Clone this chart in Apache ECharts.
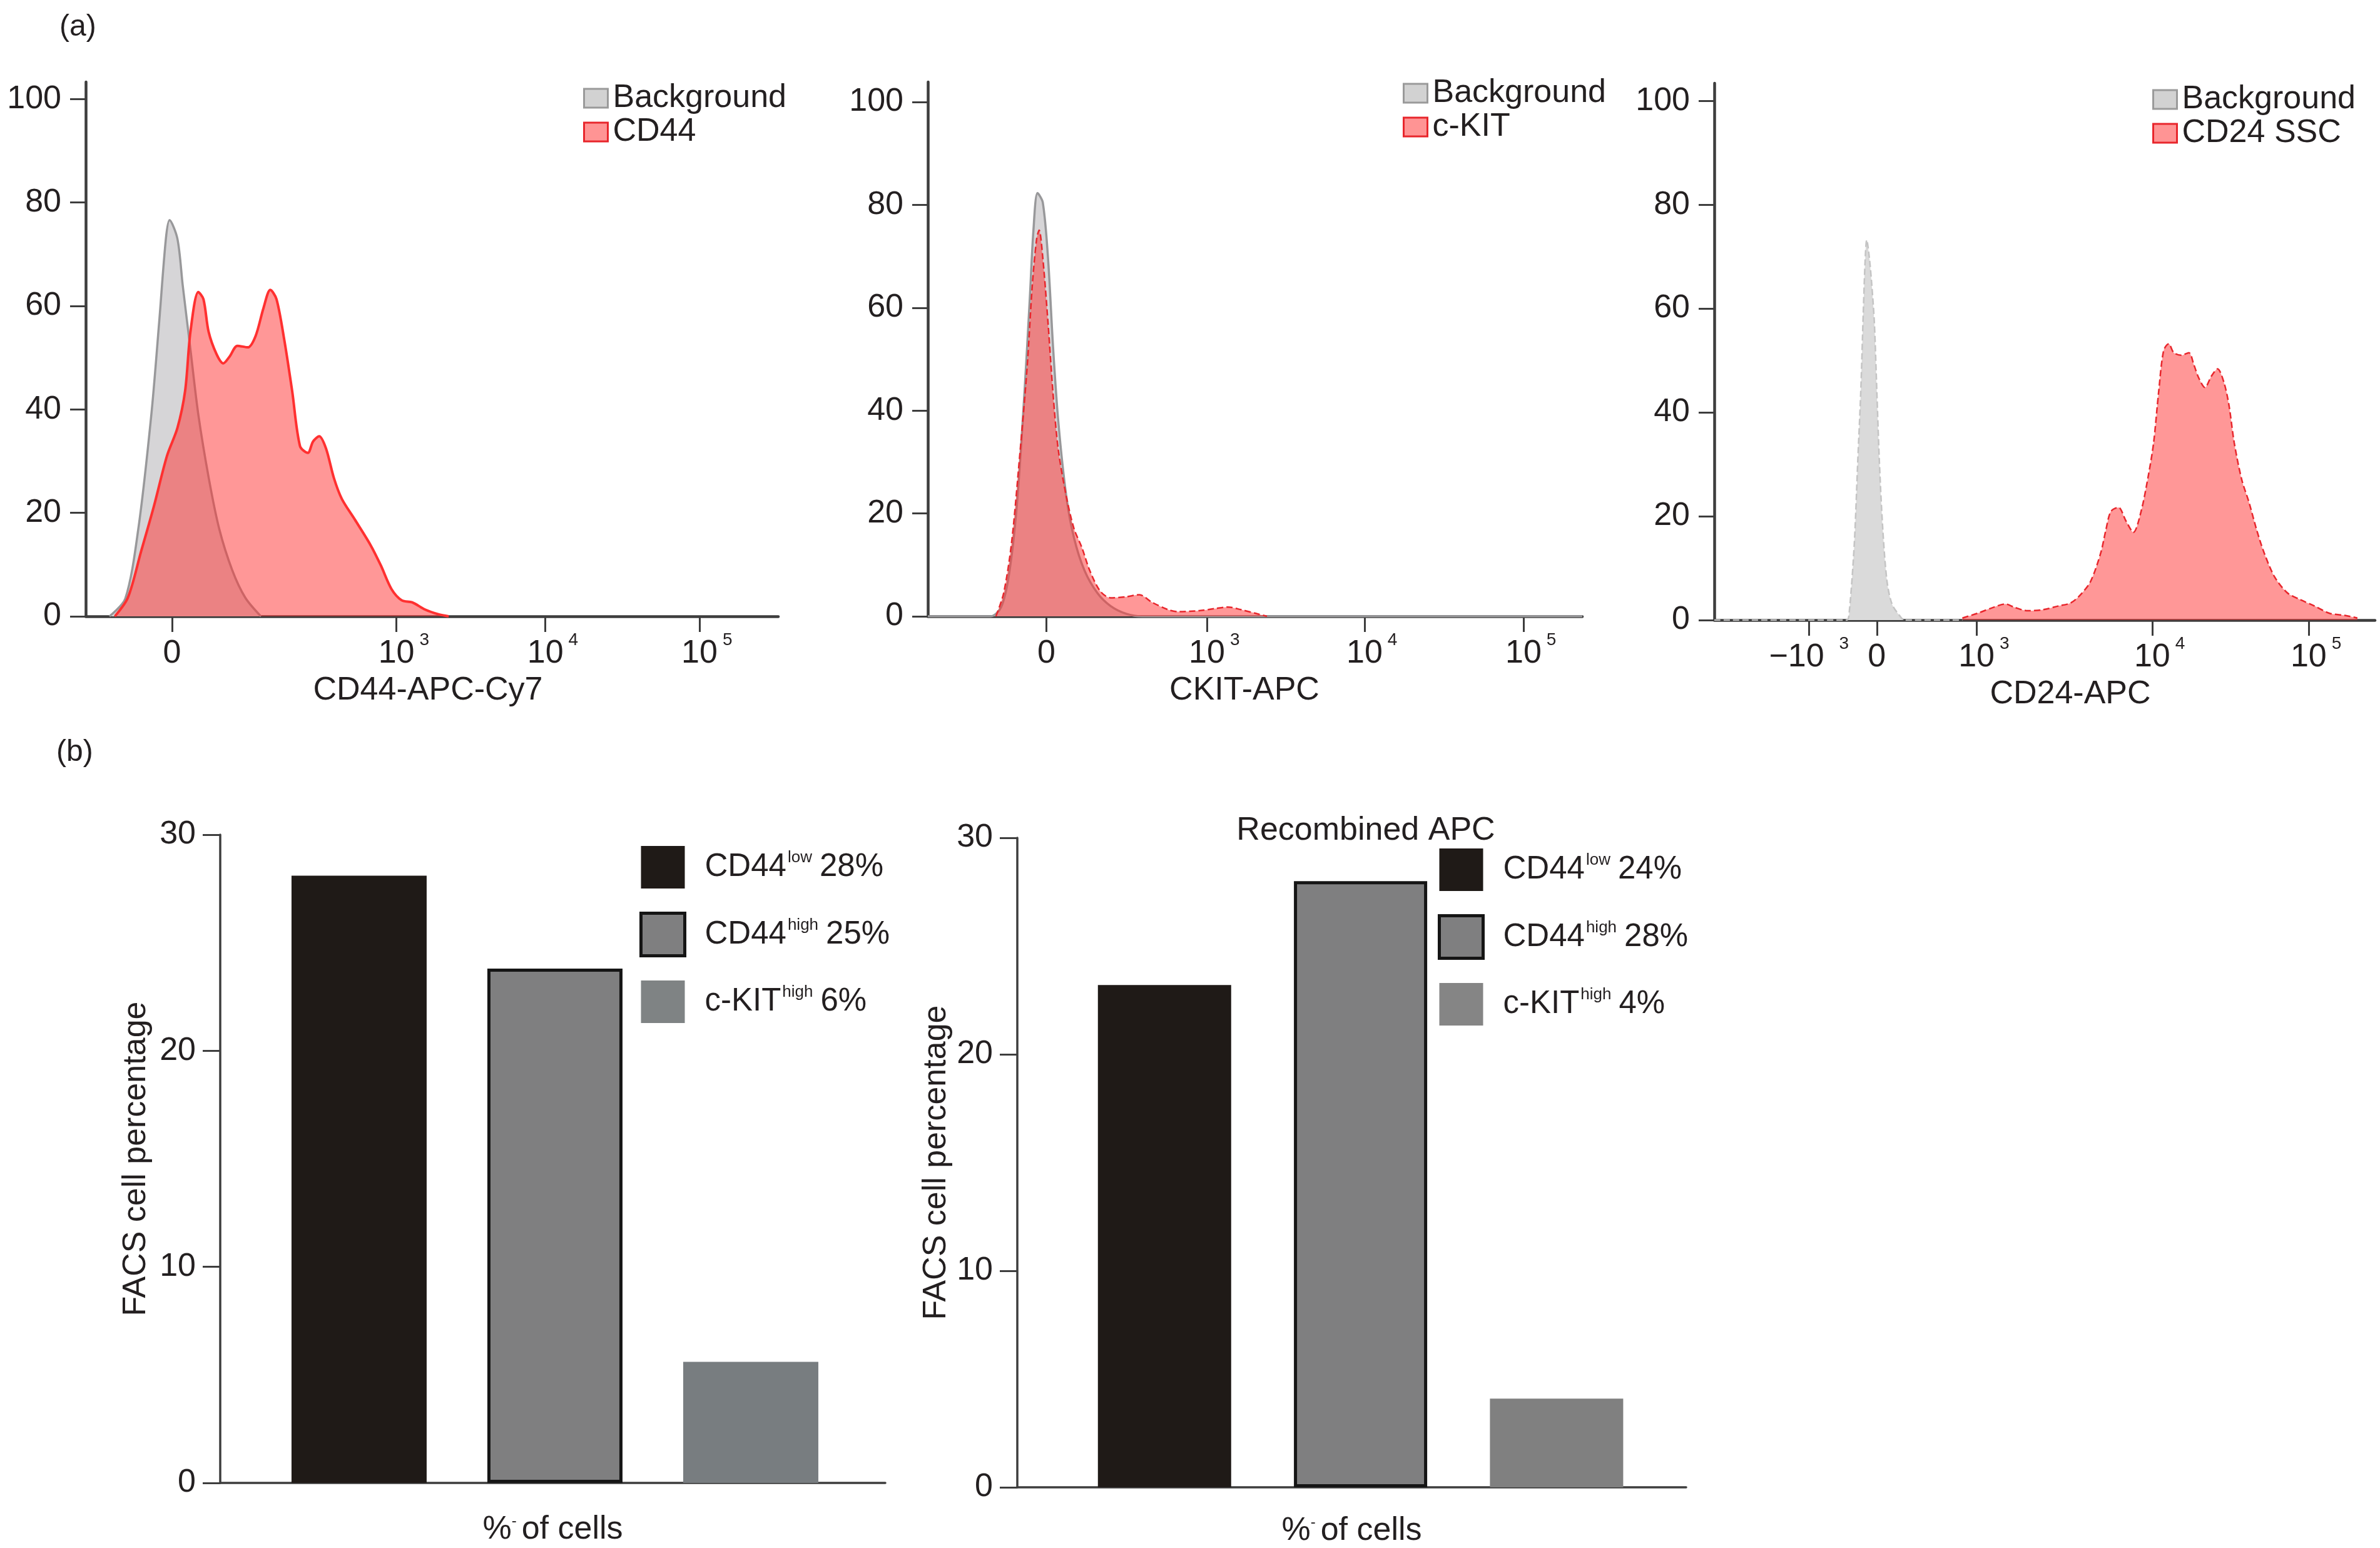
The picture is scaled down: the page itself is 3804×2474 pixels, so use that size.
<!DOCTYPE html>
<html>
<head>
<meta charset="utf-8">
<script src="https://cdn.jsdelivr.net/npm/echarts/dist/echarts.min.js"></script>
<style>html,body{margin:0;padding:0;background:#fff}#c{width:3804px;height:2474px}</style>
</head>
<body>
<div id="c"></div>
<script>
// ---------- (a) histograms: x in display decades (10^3 = 3, 10^4 ~ 4, 10^5 = 5), y = cell count ----------
// Panel 1: CD44-APC-Cy7
const p1BgPos   = [1.107, 1.211, 1.297, 1.383, 1.435, 1.479, 1.503, 1.555, 1.590, 1.641, 1.693, 1.762, 1.831, 1.917, 2.003, 2.106];
const p1BgCount = [0, 3.4, 16.9, 39, 57, 73, 76.6, 73, 64, 51.6, 39, 26.7, 16.9, 8.9, 3.6, 0];
const p1FgPos   = [1.142, 1.228, 1.314, 1.400, 1.486, 1.555, 1.606, 1.641, 1.693, 1.727, 1.761, 1.813, 1.858, 1.899, 1.951, 2.020, 2.071, 2.123, 2.168, 2.209, 2.261, 2.312, 2.364, 2.416, 2.450, 2.491, 2.536, 2.588, 2.640, 2.726, 2.829, 2.898, 2.967, 3.035, 3.104, 3.190, 3.277, 3.345];
const p1FgCount = [0, 3.6, 12.4, 21.3, 31, 36.4, 43.6, 55, 62.7, 61.3, 55, 50.7, 48.9, 50.2, 52.3, 52, 54.2, 59.6, 63.1, 61.3, 53.3, 43.6, 32.9, 31.6, 33.8, 34.8, 32.4, 26.7, 22.7, 18.7, 13.8, 9.8, 5.3, 3.1, 2.7, 1.3, 0.4, 0];
const p1TickPos = [1.52, 3, 3.983, 5];
const p1TickBase = ['0', '10', '10', '10'];
const p1TickExp  = ['', '3', '4', '5'];

// Panel 2: CKIT-APC
const p2BgPos   = [1.237, 1.634, 1.700, 1.749, 1.799, 1.848, 1.881, 1.904, 1.930, 1.963, 1.996, 2.029, 2.062, 2.112, 2.161, 2.227, 2.309, 2.392, 2.490, 2.589, 5.372];
const p2BgCount = [0, 0, 1.8, 8, 21.5, 43.8, 61.7, 75, 82.3, 80.5, 69.8, 51.9, 37.6, 23.3, 15.2, 8.9, 4.5, 2, 0.5, 0, 0];
const p2FgPos   = [1.667, 1.716, 1.766, 1.815, 1.864, 1.897, 1.924, 1.940, 1.963, 1.996, 2.029, 2.062, 2.112, 2.161, 2.210, 2.260, 2.326, 2.391, 2.490, 2.573, 2.655, 2.754, 2.820, 2.951, 3.050, 3.133, 3.215, 3.330, 3.380];
const p2FgCount = [0, 4.5, 14.3, 30.4, 48.3, 64.4, 73.3, 75.1, 69.8, 57.2, 42.9, 32.2, 23.3, 17, 13.4, 8.9, 4.9, 3.6, 3.8, 4.2, 2.7, 1.3, 0.9, 1.1, 1.5, 1.8, 1.3, 0.4, 0];
const p2TickPos = [1.986, 3, 3.996, 5];
const p2TickBase = ['0', '10', '10', '10'];
const p2TickExp  = ['', '3', '4', '5'];

// Panel 3: CD24-APC
const p3BgPos   = [1.421, 2.218, 2.233, 2.264, 2.285, 2.303, 2.318, 2.330, 2.339, 2.355, 2.370, 2.385, 2.400, 2.415, 2.436, 2.461, 2.491, 2.536, 2.567, 2.915];
const p3BgCount = [0, 0, 1.3, 14.6, 30.6, 43.9, 59, 69.7, 73.2, 69.7, 64.3, 57.2, 43.9, 30.6, 17.3, 7.5, 3.1, 0.9, 0, 0];
const p3FgPos   = [2.915, 3.006, 3.097, 3.173, 3.233, 3.309, 3.400, 3.491, 3.567, 3.627, 3.688, 3.748, 3.779, 3.809, 3.855, 3.900, 3.945, 3.991, 4.036, 4.067, 4.097, 4.127, 4.158, 4.188, 4.233, 4.279, 4.309, 4.339, 4.376, 4.415, 4.452, 4.491, 4.521, 4.552, 4.597, 4.642, 4.688, 4.733, 4.794, 4.870, 4.945, 5.036, 5.127, 5.218, 5.294];
const p3FgCount = [0.4, 1.3, 2.4, 3.1, 2.4, 1.8, 2, 2.7, 3.3, 4.9, 7.5, 12.9, 17.3, 20.9, 21.7, 19.1, 16.9, 20.9, 28, 34.2, 43.9, 51.9, 53.2, 51.5, 51, 51.5, 49.2, 46.6, 44.8, 47, 48.4, 45.7, 41.3, 34.2, 27.1, 22.6, 17.3, 12.9, 8.4, 5.3, 4, 2.7, 1.3, 0.9, 0.4];
const p3TickPos = [1.991, 2.4, 3, 4.058, 5];
const p3TickBase = ['−10', '0', '10', '10', '10'];
const p3TickExp  = ['3', '', '3', '4', '5'];

const histYTicks = [0, 20, 40, 60, 80, 100];
const histLegendNames = [['Background', 'CD44'], ['Background', 'c-KIT'], ['Background', 'CD24 SSC']];
const histAxisNames = ['CD44-APC-Cy7', 'CKIT-APC', 'CD24-APC'];

// ---------- (b) bar charts ----------
const barCategories = ['CD44low', 'CD44high', 'c-KIThigh'];
const barBase = ['CD44', 'CD44', 'c-KIT'];
const barSup  = ['low', 'high', 'high'];
const bar1Values = [28.1, 23.8, 5.6];
const bar1Labels = ['28%', '25%', '6%'];
const bar2Values = [23.2, 28.0, 4.1];
const bar2Labels = ['24%', '28%', '4%'];
const barYTicks = [0, 10, 20, 30];

// ---------- styling ----------
const FONT = 'Liberation Sans, Arial, Helvetica, sans-serif';
const TXT = '#231f20';
const AX = '#3d3d3d';
const zip = (a, b) => a.map((v, i) => [v, b[i]]);

const supRich = {
  b: { fontSize: 52, lineHeight: 56, padding: [16, 0, 0, 0], fontFamily: FONT, color: TXT },
  s: { fontSize: 28, lineHeight: 28, verticalAlign: 'top', padding: [0, 0, 0, 8], fontFamily: FONT, color: TXT },
  w: { fontSize: 28, lineHeight: 28, verticalAlign: 'top', padding: [0, 0, 0, 24], fontFamily: FONT, color: TXT },
  h: { fontSize: 28, lineHeight: 28, verticalAlign: 'top', padding: [0, 8, 0, 0], fontFamily: FONT, color: 'rgba(0,0,0,0)' }
};
function tickFmt(pos, base, exp) {
  return function (v) {
    const i = pos.findIndex(p => Math.abs(p - v) < 1e-6);
    if (i < 0) return '';
    const b = base[i], e = exp[i];
    if (!e) return '{b|' + b + '}';
    if (b.charAt(0) === '−') return '{b|' + b + '}{w|' + e + '}';
    return '{h|' + e + '}{b|' + b + '}{s|' + e + '}';
  };
}

const histGrids = [
  { left: 137, width: 1107, top: 131, height: 854, ymax: 103.3, xmin: 0.95, xmax: 5.52, namePad: [0, 13, 0, 0] },
  { left: 1483, width: 1046, top: 131, height: 854, ymax: 103.9, xmin: 1.237, xmax: 5.372, namePad: [0, 34, 0, 0] },
  { left: 2740, width: 1056, top: 133, height: 858, ymax: 103.4, xmin: 1.421, xmax: 5.4, namePad: [0, 0, 0, 82] }
];
const histTicks = [[p1TickPos, p1TickBase, p1TickExp], [p2TickPos, p2TickBase, p2TickExp], [p3TickPos, p3TickBase, p3TickExp]];
const histData = [
  [p1BgPos, p1BgCount, p1FgPos, p1FgCount],
  [p2BgPos, p2BgCount, p2FgPos, p2FgCount],
  [p3BgPos, p3BgCount, p3FgPos, p3FgCount]
];
const legendTops = [[932, 131], [2242, 123], [3440, 133]];

const grid = [], xAxis = [], yAxis = [], series = [], legend = [];

histGrids.forEach((g, k) => {
  grid.push({ left: g.left, top: g.top, width: g.width, height: g.height });
  const [tp, tb, te] = histTicks[k];
  xAxis.push({
    type: 'value', gridIndex: k, min: g.xmin, max: g.xmax,
    axisLine: { onZero: false, lineStyle: { color: AX, width: 4.5 } },
    axisTick: { customValues: tp, length: 25, lineStyle: { color: AX, width: 3 } },
    axisLabel: { customValues: tp, formatter: tickFmt(tp, tb, te), rich: supRich, margin: 24 },
    splitLine: { show: false },
    name: histAxisNames[k], nameLocation: 'middle', nameGap: 93,
    nameTextStyle: { fontSize: 52, lineHeight: 52, fontFamily: FONT, color: TXT, padding: g.namePad }
  });
  yAxis.push({
    type: 'value', gridIndex: k, min: 0, max: g.ymax,
    axisLine: { show: true, onZero: false, lineStyle: { color: AX, width: 4.5 } },
    axisTick: { show: true, customValues: histYTicks, length: 25, lineStyle: { color: AX, width: 3 } },
    axisLabel: { customValues: histYTicks, margin: 39, fontSize: 52, fontFamily: FONT, color: TXT },
    splitLine: { show: false }
  });
  const [bp, bc, fp, fc] = histData[k];
  const dashed = k > 0;
  series.push({
    name: histLegendNames[k][0], type: 'line', xAxisIndex: k, yAxisIndex: k,
    data: zip(bp, bc), symbol: 'none', smooth: 0.3, silent: true, z: 2,
    lineStyle: { color: k === 2 ? '#c4c4c4' : '#98989a', width: k === 2 ? 2.5 : 3.5, type: k === 2 ? 'dashed' : 'solid' },
    areaStyle: { color: k === 2 ? '#dadada' : '#d6d5d7', opacity: 1 }
  });
  series.push({
    name: histLegendNames[k][1], type: 'line', xAxisIndex: k, yAxisIndex: k,
    data: zip(fp, fc), symbol: 'none', smooth: 0.3, silent: true, z: 3,
    lineStyle: { color: dashed ? '#e8262c' : '#ff3030', width: dashed ? 2.5 : 4, type: dashed ? 'dashed' : 'solid' },
    areaStyle: { color: 'rgba(255,48,48,0.5)', opacity: 1 }
  });
  legend.push({
    orient: 'vertical', left: legendTops[k][0], top: legendTops[k][1], padding: 0,
    itemWidth: 38, itemHeight: 30, itemGap: 2, icon: 'rect', selectedMode: false,
    textStyle: { fontSize: 52, lineHeight: 46, fontFamily: FONT, color: TXT, padding: [0, 0, 0, 3] },
    data: [
      { name: histLegendNames[k][0], itemStyle: { color: '#d2d2d2', borderColor: '#9a9a9a', borderWidth: 3 } },
      { name: histLegendNames[k][1], itemStyle: { color: '#ff9494', borderColor: '#e8262c', borderWidth: 3 } }
    ]
  });
});

// bar panels
const barGrids = [
  { left: 352, width: 1063, top: 1334, height: 1036, xmin: 0.291, xmax: 3.687, bw: 216, nameGapY: 108, nameGapX: 49, vals: bar1Values, labels: bar1Labels, lg: [1022, 1352], c3: '#787d80', c3l: '#7f8384' },
  { left: 1626, width: 1069, top: 1339, height: 1041, xmin: 0.249, xmax: 3.661, bw: 213, nameGapY: 103, nameGapX: 44, vals: bar2Values, labels: bar2Labels, lg: [2298, 1356], c3: '#808080', c3l: '#858585' }
];
const barRich = {
  f: { fontSize: 51, lineHeight: 56, fontFamily: FONT, color: TXT, padding: [0, 0, 0, 27] },
  a: { fontSize: 51, lineHeight: 56, fontFamily: FONT, color: TXT },
  s: { fontSize: 26, lineHeight: 26, verticalAlign: 'top', padding: [0, 12, 10, 2], fontFamily: FONT, color: TXT }
};
barGrids.forEach((g, j) => {
  const k = 3 + j;
  grid.push({ left: g.left, top: g.top, width: g.width, height: g.height });
  xAxis.push({
    type: 'value', gridIndex: k, min: g.xmin, max: g.xmax,
    axisLine: { onZero: false, lineStyle: { color: AX, width: 3.5 } },
    axisTick: { show: false }, axisLabel: { show: false }, splitLine: { show: false },
    name: '{a|%}{s|-}{a|of cells}', nameLocation: 'middle', nameGap: g.nameGapX,
    nameTextStyle: {
      fontSize: 52, lineHeight: 52, fontFamily: FONT, color: TXT,
      rich: {
        a: { fontSize: 52, lineHeight: 52, fontFamily: FONT, color: TXT },
        s: { fontSize: 24, lineHeight: 24, verticalAlign: 'top', padding: [0, 8, 10, 0], fontFamily: FONT, color: TXT }
      }
    }
  });
  yAxis.push({
    type: 'value', gridIndex: k, min: 0, max: 30, interval: 10,
    axisLine: { show: true, onZero: false, lineStyle: { color: AX, width: 3.5 } },
    axisTick: { show: true, length: 28, lineStyle: { color: AX, width: 3 } },
    axisLabel: { margin: 39, fontSize: 52, fontFamily: FONT, color: TXT },
    splitLine: { show: false },
    name: 'FACS cell percentage', nameLocation: 'middle', nameGap: g.nameGapY, nameRotate: 90,
    nameTextStyle: { fontSize: 52, lineHeight: 52, fontFamily: FONT, color: TXT }
  });
  const styles = [
    { color: '#1f1a17' },
    { color: '#7f7f80', borderColor: '#151515', borderWidth: 5 },
    { color: g.c3 }
  ];
  const legStyles = [
    { color: '#1f1a17' },
    { color: '#7f7f80', borderColor: '#151515', borderWidth: 5 },
    { color: g.c3l }
  ];
  const names = barCategories.map((c, i) => c + ' ' + g.labels[i] + ' #' + j);
  barCategories.forEach((c, i) => {
    series.push({
      name: names[i], type: 'bar', xAxisIndex: k, yAxisIndex: k,
      data: [[i + 1, g.vals[i]]], barWidth: g.bw, barGap: '-100%', silent: true,
      itemStyle: styles[i]
    });
  });
  legend.push({
    orient: 'vertical', left: g.lg[0], top: g.lg[1], padding: 0,
    itemWidth: 70, itemHeight: 68, itemGap: 37, icon: 'rect', selectedMode: false,
    formatter: function (name) {
      const i = names.indexOf(name);
      return '{f|' + barBase[i] + '}{s|' + barSup[i] + '}{a|' + g.labels[i] + '}';
    },
    textStyle: { fontSize: 51, fontFamily: FONT, color: TXT, rich: barRich },
    data: names.map((n, i) => ({ name: n, itemStyle: legStyles[i] }))
  });
});

const title = [
  { text: '(a)', left: 90, top: 11, textStyle: { fontSize: 48, lineHeight: 56, fontWeight: 'normal', fontFamily: FONT, color: TXT } },
  { text: '(b)', left: 85, top: 1170, textStyle: { fontSize: 48, lineHeight: 56, fontWeight: 'normal', fontFamily: FONT, color: TXT } },
  { text: 'Recombined APC', left: 2178, textAlign: 'center', top: 1295, textStyle: { fontSize: 52, lineHeight: 56, fontWeight: 'normal', fontFamily: FONT, color: TXT } }
];

const chart = echarts.init(document.getElementById('c'), null, { renderer: 'canvas' });
chart.setOption({
  animation: false,
  backgroundColor: '#ffffff',
  textStyle: { fontFamily: FONT },
  title, grid, xAxis, yAxis, series, legend
});
</script>
</body>
</html>
